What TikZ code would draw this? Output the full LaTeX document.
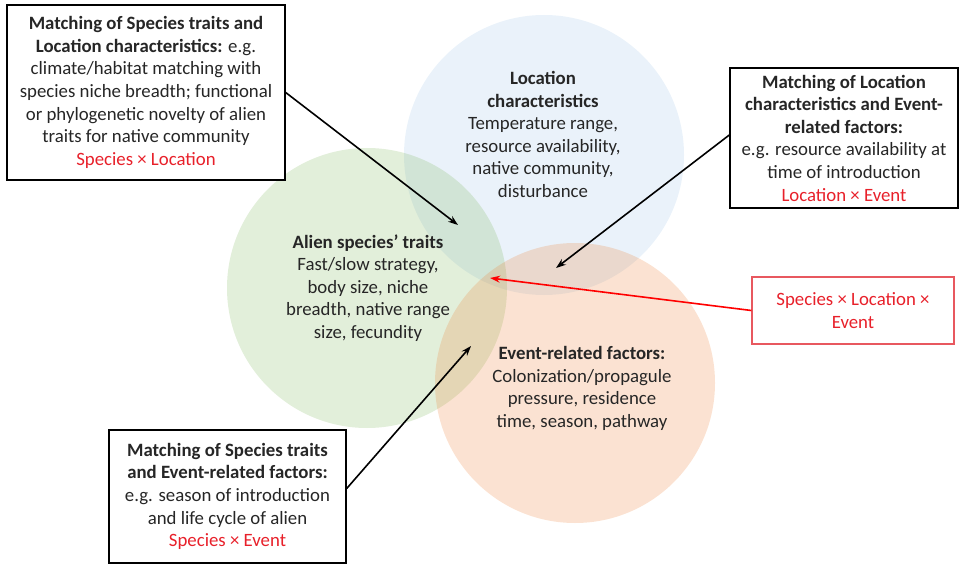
\documentclass[tikz,border=0pt]{standalone}
\usepackage{fontspec}
\setmainfont{Carlito}
\usetikzlibrary{arrows.meta,calc}
\definecolor{txt}{HTML}{262626}
\definecolor{redtxt}{HTML}{E8202A}
\definecolor{redbox}{HTML}{E8585F}
\definecolor{cgreen}{HTML}{70AD47}
\definecolor{cblue}{HTML}{5B9BD5}
\definecolor{corange}{HTML}{ED7D31}
\begin{document}
\begin{tikzpicture}[x=1pt,y=-1pt,
  every node/.style={font=\fontsize{18.8}{22.6}\selectfont, text=txt, inner sep=0pt},
  blob/.style={circle, draw=none, minimum size=280pt},
  infobox/.style={draw=black, line width=1.4pt, fill=white, align=center},
  redinfobox/.style={draw=redbox, line width=1.2pt, fill=white, align=center},
  circtext/.style={align=center},
  conn/.style={line width=1.6pt, -{Stealth[length=10pt,width=7pt]}},
]
\useasboundingbox (0,0) rectangle (961,564);
% circles
\node[blob, fill=cblue, fill opacity=0.13] (loc) at (544,155) {};
\node[blob, fill=cgreen, fill opacity=0.2] (spec) at (367,288) {};
\node[blob, fill=corange, fill opacity=0.22] (evt) at (575,383) {};
% circle texts
\node[circtext] (loct) at (543,134.5) {\textbf{Location}\\\textbf{characteristics}\\Temperature range,\\resource availability,\\native community,\\disturbance};
\node[circtext] (spect) at (368,288) {\textbf{Alien species’ traits}\\Fast/slow strategy,\\body size, niche\\breadth, native range\\size, fecundity};
\node[circtext] (evtt) at (582,388.5) {\textbf{Event-related factors:}\\Colonization/propagule\\pressure, residence\\time, season, pathway};
% boxes
\node[infobox, minimum width=278pt, minimum height=175pt] (b1) at (146,92.5) {\textbf{Matching of Species traits and}\\\textbf{Location characteristics:} e.g.\\climate/habitat matching with\\species niche breadth; functional\\or phylogenetic novelty of alien\\traits for native community\\\textcolor{redtxt}{Species × Location}};
\node[infobox, minimum width=228pt, minimum height=140pt] (b2) at (844,138) {\textbf{Matching of Location}\\\textbf{characteristics and Event-}\\\textbf{related factors:}\\e.g. resource availability at\\time of introduction\\\textcolor{redtxt}{Location × Event}};
\node[redinfobox, minimum width=202pt, minimum height=67pt] (b3) at (853,310.5) {\textcolor{redtxt}{Species × Location ×}\\\textcolor{redtxt}{Event}};
\node[infobox, minimum width=237pt, minimum height=133pt] (b4) at (227.5,496.5) {\textbf{Matching of Species traits}\\\textbf{and Event-related factors:}\\e.g. season of introduction\\and life cycle of alien\\\textcolor{redtxt}{Species × Event}};
% arrow targets
\coordinate (t1) at (458,225);
\coordinate (t2) at (556,268);
\coordinate (t3) at (490,278);
\coordinate (t4) at (471,346);
% connectors
\draw[conn] (b1.east) -- (t1);
\draw[conn] ($(b2.west)+(0,-3)$) -- (t2);
\draw[conn, draw=red, color=red] (b3.west) -- (t3);
\draw[conn] ($(b4.east)+(0,-8)$) -- (t4);
\end{tikzpicture}
\end{document}
